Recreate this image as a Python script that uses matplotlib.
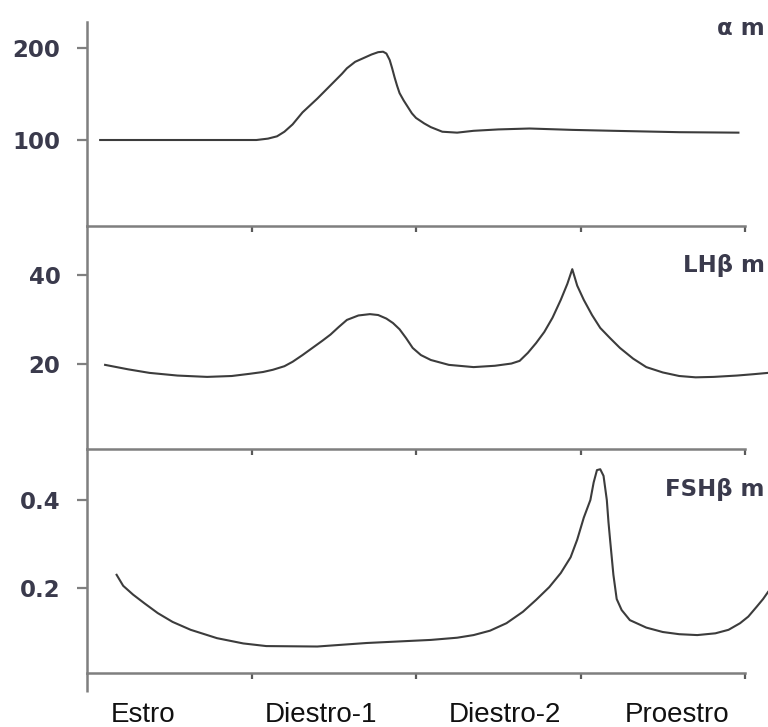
import matplotlib
matplotlib.use("Agg")
import matplotlib.pyplot as plt
from matplotlib.ticker import NullFormatter

# stage names on the x axis (one unit per stage)
STAGES = ["Estro", "Diestro-1", "Diestro-2", "Proestro"]
STAGE_LABEL_X = [0.34, 1.42, 2.54, 3.59]

ALPHA_X = [0.08, 0.5, 1.03, 1.10, 1.155, 1.20, 1.25, 1.31, 1.40, 1.50, 1.55, 1.58, 1.63,
           1.68, 1.73, 1.77, 1.80, 1.82, 1.84, 1.855, 1.87, 1.885, 1.90, 1.925, 1.95,
           1.975, 2.0, 2.05, 2.09, 2.16, 2.25, 2.35, 2.5, 2.69, 2.95, 3.2, 3.6, 3.96]
ALPHA_Y = [100, 100, 100, 101.5, 104, 109, 117, 130, 145, 163, 172, 178, 185,
           189, 193, 195.5, 196, 194, 187, 178, 168, 159, 151, 143, 136,
           129, 124, 118, 114, 109, 108, 110, 111.5, 112.5, 111, 110, 108.5, 108]

LH_X = [0.11, 0.25, 0.38, 0.55, 0.73, 0.88, 0.99, 1.07, 1.13, 1.20, 1.25, 1.31, 1.37,
        1.43, 1.48, 1.53, 1.58, 1.65, 1.72, 1.77, 1.82, 1.86, 1.90, 1.94, 1.98, 2.03,
        2.09, 2.20, 2.35, 2.48, 2.58, 2.63, 2.68, 2.73, 2.78, 2.83, 2.88, 2.92, 2.95,
        2.98, 3.02, 3.07, 3.12, 3.18, 3.24, 3.32, 3.40, 3.50, 3.60, 3.70, 3.81, 3.95,
        4.05, 4.14]
LH_Y = [19.8, 18.8, 18.0, 17.4, 17.1, 17.3, 17.8, 18.2, 18.7, 19.5, 20.5, 22.0, 23.6,
        25.2, 26.6, 28.3, 29.9, 30.9, 31.2, 31.0, 30.2, 29.2, 27.8, 25.8, 23.6, 22.0,
        20.9, 19.8, 19.3, 19.6, 20.1, 20.7, 22.5, 24.7, 27.2, 30.4, 34.4, 38.0, 41.3,
        37.6, 34.4, 31.0, 28.1, 25.8, 23.6, 21.2, 19.3, 18.1, 17.3, 17.0, 17.1, 17.4,
        17.7, 18.0]

FSH_X = [0.18, 0.22, 0.28, 0.35, 0.43, 0.52, 0.63, 0.79, 0.95, 1.09, 1.40, 1.70, 2.09,
         2.25, 2.35, 2.45, 2.55, 2.65, 2.73, 2.81, 2.88, 2.94, 2.98, 3.02, 3.06, 3.08,
         3.10, 3.12, 3.14, 3.16, 3.17, 3.18, 3.20, 3.22, 3.25, 3.30, 3.40, 3.50, 3.60,
         3.71, 3.82, 3.90, 3.97, 4.02, 4.07, 4.11, 4.14]
FSH_Y = [0.230, 0.205, 0.185, 0.165, 0.143, 0.123, 0.105, 0.086, 0.074, 0.068, 0.067,
         0.075, 0.082, 0.087, 0.093, 0.103, 0.120, 0.146, 0.173, 0.202, 0.234, 0.27,
         0.31, 0.36, 0.40, 0.44, 0.468, 0.470, 0.455, 0.40, 0.35, 0.309, 0.23, 0.175,
         0.150, 0.127, 0.110, 0.100, 0.095, 0.093, 0.097, 0.105, 0.120, 0.135, 0.157,
         0.175, 0.191]

PANELS = [
    ("\u03b1 m", ALPHA_X, ALPHA_Y, [100, 200], ["100", "200"], (6.5, 228.3), 221.7),
    ("LH\u03b2 m", LH_X, LH_Y, [20, 40], ["20", "40"], (0.9, 51.0), 42.2),
    ("FSH\u03b2 m", FSH_X, FSH_Y, [0.2, 0.4], ["0.2", "0.4"], (0.0068, 0.516), 0.423),
]

SPINE = "#7f7f7f"
CURVE = "#3c3c3c"
TEXT = "#3a3a4c"

W, H = 768, 727
LEFT, RIGHT, UNIT = 87, 768, 164.5
ROWS = [(22, 226), (226, 449), (449, 673)]


def main() -> None:
    fig = plt.figure(figsize=(W / 100, H / 100), dpi=100)
    xmax = (RIGHT - LEFT) / UNIT
    axes = []
    for (top, bottom), (name, xs, ys, yt, ytl, ylim, label_y) in zip(ROWS, PANELS):
        ax = fig.add_axes([LEFT / W, 1 - bottom / H, (RIGHT - LEFT) / W, (bottom - top) / H])
        ax.plot(xs, ys, color=CURVE, linewidth=1.5, clip_on=False,
                solid_joinstyle="round")
        ax.set_xlim(0, xmax)
        ax.set_ylim(*ylim)
        for side in ("top", "right"):
            ax.spines[side].set_visible(False)
        for side in ("left", "bottom"):
            ax.spines[side].set_color(SPINE)
            ax.spines[side].set_linewidth(1.8)
        ax.spines["bottom"].set_bounds(0, 4)
        ax.set_xticks([1, 2, 3, 4])
        ax.xaxis.set_major_formatter(NullFormatter())
        ax.tick_params(axis="x", direction="out", length=4.5, width=1.6, color="#5a5a5a")
        ax.set_yticks(yt, ytl)
        ax.tick_params(axis="y", direction="out", length=7, width=1.6, color=SPINE,
                       pad=12, labelsize=16.5, labelcolor=TEXT)
        for lab in ax.get_yticklabels():
            lab.set_fontweight("bold")
            lab.set_family("DejaVu Sans")
        ax.text(4.12, label_y, name, ha="right", va="center", fontsize=16.5,
                fontweight="bold", color=TEXT, family="DejaVu Sans")
        ax.patch.set_visible(False)
        axes.append(ax)

    ax3 = axes[-1]
    # the left axis line runs a little below the last x line
    ax3.plot([0, 0], [0, -19 / 224], transform=ax3.transAxes, color=SPINE,
             linewidth=1.8, clip_on=False, solid_capstyle="butt")
    ax3.set_xticks(STAGE_LABEL_X, STAGES, minor=True)
    ax3.tick_params(axis="x", which="minor", length=0, pad=21, labelsize=20,
                    labelcolor="#111111")
    for lab in ax3.get_xticklabels(minor=True):
        lab.set_family("Liberation Sans")

    fig.savefig("out.png", dpi=100, facecolor="white")
    plt.close(fig)


if __name__ == "__main__":
    main()
